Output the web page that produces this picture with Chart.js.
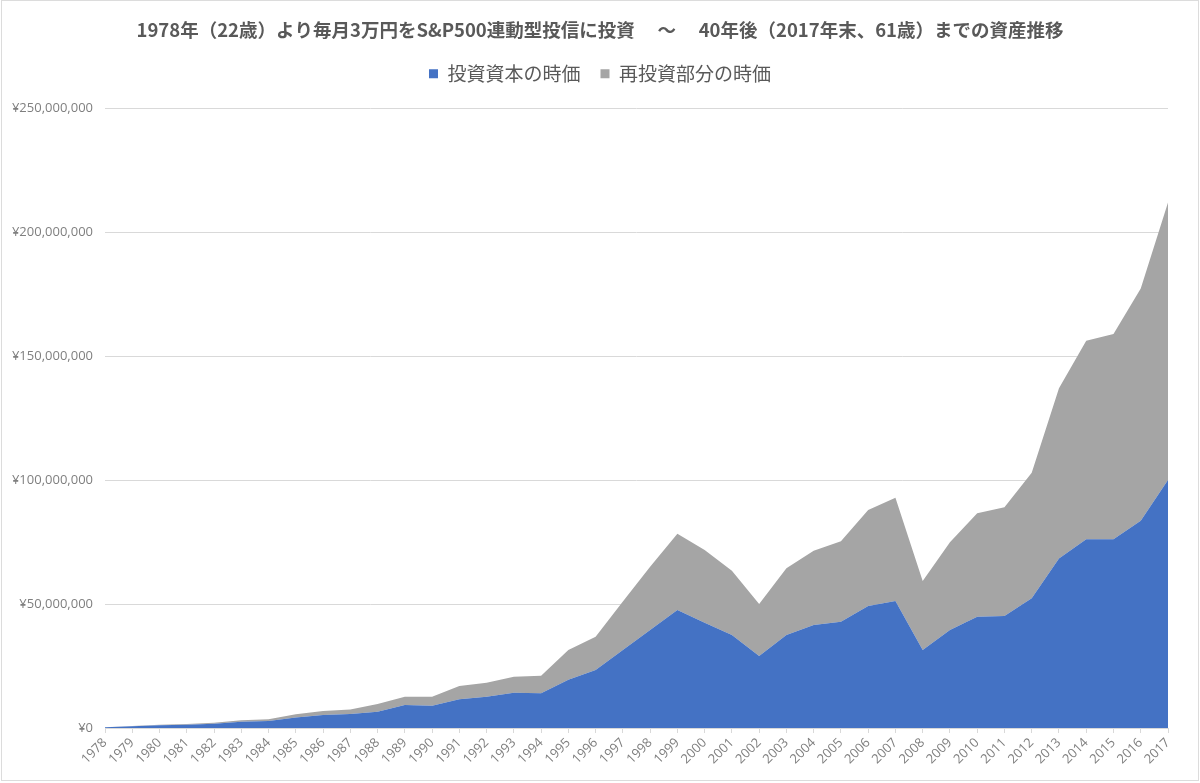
<!DOCTYPE html>
<html lang="ja">
<head>
<meta charset="utf-8">
<title>S&P500 積立の資産推移</title>
<script src="https://cdn.jsdelivr.net/npm/chart.js@4/dist/chart.umd.min.js"></script>
<style>
  html, body { margin: 0; padding: 0; background: #fff; }
  #wrap { position: relative; width: 1200px; height: 783px; }
  #marco { position: absolute; left: 1px; top: 0; width: 1196px; height: 779px; border: 1px solid #dcdcdc; pointer-events: none; }
</style>
</head>
<body>
<div id="wrap">
  <canvas id="grafico" width="1200" height="783"></canvas>
  <div id="marco"></div>
</div>
<script>
// ================= DATOS (百万円) =================
const anios = ["1978","1979","1980","1981","1982","1983","1984","1985","1986","1987",
  "1988","1989","1990","1991","1992","1993","1994","1995","1996","1997",
  "1998","1999","2000","2001","2002","2003","2004","2005","2006","2007",
  "2008","2009","2010","2011","2012","2013","2014","2015","2016","2017"];

// 投資資本の時価
const capital = [0.3, 0.7, 1.1, 1.3, 1.7, 2.5, 2.8, 4.2, 5.2, 5.6,
  6.6, 9.3, 9.0, 11.6, 12.6, 14.2, 14.0, 19.5, 23.4, 31.5,
  39.5, 47.6, 42.5, 37.5, 29.0, 37.5, 41.5, 42.9, 49.2, 51.2,
  31.5, 39.5, 44.9, 45.2, 52.3, 68.4, 76.1, 76.1, 83.6, 100.0];

// 再投資部分の時価 (積み上げ)
const reinversion = [0.05, 0.1, 0.2, 0.3, 0.4, 0.6, 0.7, 1.3, 1.7, 1.9,
  3.1, 3.3, 3.6, 5.3, 5.7, 6.5, 7.1, 12.0, 13.4, 19.5,
  25.5, 30.8, 29.3, 25.9, 21.0, 26.9, 30.0, 32.4, 38.7, 41.7,
  27.8, 35.4, 41.7, 43.8, 50.7, 68.6, 80.1, 82.8, 93.7, 112.0];

const series = ["投資資本の時価", "再投資部分の時価"];
const titulo = "1978年（22歳）より毎月3万円をS&P500連動型投信に投資　 ～ 　40年後（2017年末、61歳）までの資産推移";

const AZUL = "#4472C4";
const GRIS = "#A5A5A5";
const TEXTO = "#595959";
const FUENTE_JP = "'Noto Sans CJK JP', 'Noto Sans', sans-serif";
const FUENTE_EJE = "'Open Sans', 'Noto Sans', sans-serif";

// la leyenda necesita más alto para bajar el área del gráfico,
// y título + leyenda se centran sobre toda la imagen
const ajusteCabecera = {
  id: "ajusteCabecera",
  beforeLayout(chart) {
    const lg = chart.legend;
    if (!lg || lg._parcheado) return;
    const fitOriginal = lg.fit.bind(lg);
    lg.fit = function () { fitOriginal(); this.height = 64; };
    lg._parcheado = true;
  },
  afterLayout(chart) {
    if (chart.titleBlock) chart.titleBlock.left += 32;
    if (chart.legend) chart.legend.left += 32;
  }
};

// ================= GRAFICO =================
new Chart(document.getElementById("grafico"), {
  type: "line",
  data: {
    labels: anios,
    datasets: [
      { label: series[0], data: capital, backgroundColor: AZUL, borderColor: AZUL,
        borderWidth: 0, fill: "origin", pointRadius: 0, tension: 0 },
      { label: series[1], data: reinversion, backgroundColor: GRIS, borderColor: GRIS,
        borderWidth: 0, fill: "-1", pointRadius: 0, tension: 0 }
    ]
  },
  options: {
    responsive: false,
    animation: false,
    layout: { padding: { left: 0, right: 32, top: 0, bottom: 0 } },
    plugins: {
      title: {
        display: true,
        text: titulo,
        color: TEXTO,
        font: { family: FUENTE_JP, size: 18.5, weight: "bold" },
        padding: { top: 19, bottom: 3 }
      },
      legend: {
        position: "top",
        labels: {
          color: TEXTO,
          font: { family: FUENTE_JP, size: 19 },
          boxWidth: 9,
          boxHeight: 9,
          padding: 20
        }
      },
      tooltip: { enabled: false }
    },
    scales: {
      x: {
        offset: false,
        grid: { drawOnChartArea: false, drawTicks: true, tickLength: 5, color: "#d9d9d9" },
        border: { display: true, color: "#d9d9d9" },
        ticks: {
          autoSkip: false, maxRotation: 45, minRotation: 45, padding: 2,
          color: "#7f7f7f", font: { family: FUENTE_EJE, size: 13 }
        },
        afterFit: s => { s.height = 55; }
      },
      y: {
        stacked: true,
        min: 0,
        max: 250,
        ticks: {
          stepSize: 50,
          padding: 12,
          color: "#7f7f7f",
          font: { family: FUENTE_EJE, size: 13 },
          callback: v => "¥" + (v * 1e6).toLocaleString("en-US")
        },
        grid: { color: "#d9d9d9", drawTicks: false },
        border: { display: false },
        afterFit: s => { s.width = 105; }
      }
    }
  },
  plugins: [ajusteCabecera]
});
</script>
</body>
</html>
